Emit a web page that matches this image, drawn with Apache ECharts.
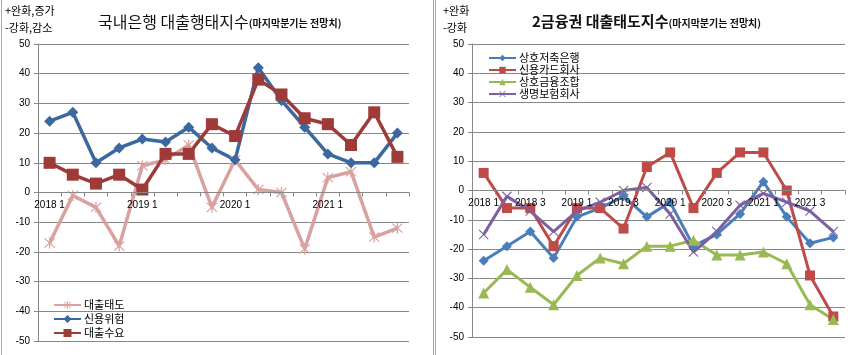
<!DOCTYPE html>
<html><head><meta charset="utf-8">
<script src="https://cdn.jsdelivr.net/npm/echarts@6/dist/echarts.min.js"></script>
<style>html,body{margin:0;padding:0;background:#fff}#c{width:868px;height:355px}</style>
</head><body><div id="c"></div>
<script>
const categories = ['2018 1','2018 2','2018 3','2018 4','2019 1','2019 2','2019 3','2019 4','2020 1','2020 2','2020 3','2020 4','2021 1','2021 2','2021 3','2021 4'];
const yTicks = [-50,-40,-30,-20,-10,0,10,20,30,40,50];
// left chart
const loanAttitude = [-17,-1,-5,-18,9,11,16,-5,11,1,0,-19,5,7,-15,-12];
const creditRisk   = [24,27,10,15,18,17,22,15,11,42,31,22,13,10,10,20];
const loanDemand   = [10,6,3,6,1,13,13,23,19,38,33,25,23,16,27,12];
// right chart
const savingsBanks = [-24,-19,-14,-23,-9,-6,-2,-9,-4,-19,-15,-8,3,-9,-18,-16];
const cardCompanies = [6,-6,-6,-19,-6,-6,-13,8,13,-6,6,13,13,0,-29,-43];
const mutualFinance = [-35,-27,-33,-39,-29,-23,-25,-19,-19,-17,-22,-22,-21,-25,-39,-44];
const lifeInsurance = [-15,-2,-7,-14,-7,-4,0,1,-8,-21,-14,-5,-1,-4,-7,-14];

const FONT = 'Liberation Sans, Arial, sans-serif';
const KFONT = '"Noto Sans CJK KR", sans-serif';
const GRID = '#878787';
const star = 'path://M9,0L11,0L11,20L9,20Z M1,2.4L2.4,1L19,17.6L17.6,19Z M17.6,1L19,2.4L2.4,19L1,17.6Z';
const xmark = 'path://M1,2.4L2.4,1L19,17.6L17.6,19Z M17.6,1L19,2.4L2.4,19L1,17.6Z';

const grids = [
  {left:38, right:459, top:44, bottom:14},
  {left:472, right:23, top:44, bottom:18}
];
const H = 355;
function zeroOffset(g){
  const h = H - g.top - g.bottom;
  return -h * (0 - yTicks[0]) / (yTicks[yTicks.length-1] - yTicks[0]);
}

function xAx(gi, interval){
  return {type:'category', gridIndex:gi, data:categories, boundaryGap:true, position:'bottom',
    offset: zeroOffset(grids[gi]), z:10,
    axisLine:{onZero:false, lineStyle:{color:GRID, width:1}},
    axisTick:{show:true, interval:0, length:4, lineStyle:{color:GRID}},
    axisLabel:{interval:interval, color:'#000', fontFamily:FONT, fontSize:10, margin:8}};
}
function yAx(gi){
  return {type:'value', gridIndex:gi, min:yTicks[0], max:yTicks[yTicks.length-1], interval:10,
    axisLine:{show:true, lineStyle:{color:GRID}},
    axisTick:{show:true, length:4, lineStyle:{color:GRID}},
    splitLine:{show:true, lineStyle:{color:GRID, width:1}},
    axisLabel:{color:'#000', fontFamily:FONT, fontSize:10, margin:8}};
}
function ser(name, data, gi, color, symbol, size, width){
  return {name, type:'line', xAxisIndex:gi, yAxisIndex:gi, data, color,
    symbol, symbolSize:size, showAllSymbol:true,
    lineStyle:{color, width}, itemStyle:{color, borderWidth:0},
    emphasis:{disabled:true}, animation:false};
}

const chart = echarts.init(document.getElementById('c'), null, {renderer:'canvas'});
chart.setOption({
  animation:false,
  backgroundColor:'#fff',
  title:[
    {left:93, top:9, text:'{a|국내은행 대출행태지수}{b|(마지막분기는 전망치)}',
     textStyle:{rich:{a:{fontFamily:KFONT, fontSize:16, color:'#111', fontWeight:'normal'},
                      b:{fontFamily:KFONT, fontSize:10, color:'#111', padding:[3,0,0,0]}}}},
    {left:527, top:9, text:'{a|2금융권 대출태도지수}{b|(마지막분기는 전망치)}',
     textStyle:{rich:{a:{fontFamily:KFONT, fontSize:15, color:'#111', fontWeight:'bold'},
                      b:{fontFamily:KFONT, fontSize:10, color:'#111', padding:[3,0,0,0]}}}}
  ],
  graphic:[
    {type:'text', left:5, top:5, style:{text:'+완화,증가', font:'11px "Noto Sans CJK KR"', fill:'#000'}},
    {type:'text', left:5, top:22, style:{text:'-강화,감소', font:'11px "Noto Sans CJK KR"', fill:'#000'}},
    {type:'text', left:443, top:5, style:{text:'+완화', font:'11px "Noto Sans CJK KR"', fill:'#000'}},
    {type:'text', left:443, top:22, style:{text:'-강화', font:'11px "Noto Sans CJK KR"', fill:'#000'}},
    {type:'line', shape:{x1:1.5,y1:0,x2:1.5,y2:355}, style:{stroke:'#aaa', lineWidth:1}},
    {type:'line', shape:{x1:433.5,y1:0,x2:433.5,y2:355}, style:{stroke:'#aaa', lineWidth:1}},
    {type:'line', shape:{x1:435.5,y1:0,x2:435.5,y2:355}, style:{stroke:'#aaa', lineWidth:1}}
  ],
  legend:[
    {orient:'vertical', left:48, top:294, itemWidth:27, itemHeight:10, itemGap:2,
     data:['대출태도','신용위험','대출수요'],
     textStyle:{fontFamily:KFONT, fontSize:11, color:'#000', lineHeight:12, padding:[0,0,0,-2]}},
    {orient:'vertical', left:483, top:47, itemWidth:27, itemHeight:8, itemGap:0,
     data:['상호저축은행','신용카드회사','상호금융조합','생명보험회사'],
     textStyle:{fontFamily:KFONT, fontSize:11, color:'#000', lineHeight:12, padding:[0,0,0,-2]}}
  ],
  grid: grids,
  xAxis:[xAx(0,3), xAx(1,1)],
  yAxis:[yAx(0), yAx(1)],
  series:[
    ser('대출태도', loanAttitude, 0, '#D9A19F', star, 11, 3.5),
    ser('신용위험', creditRisk, 0, '#3B689E', 'diamond', 11, 3.5),
    ser('대출수요', loanDemand, 0, '#9E3A38', 'rect', 12, 3.5),
    ser('상호저축은행', savingsBanks, 1, '#4A7EBB', 'diamond', 10, 3),
    ser('신용카드회사', cardCompanies, 1, '#BE4B48', 'rect', 10, 3),
    ser('상호금융조합', mutualFinance, 1, '#98B954', 'triangle', 11, 3),
    ser('생명보험회사', lifeInsurance, 1, '#7D60A0', xmark, 10, 3)
  ]
});
</script></body></html>
